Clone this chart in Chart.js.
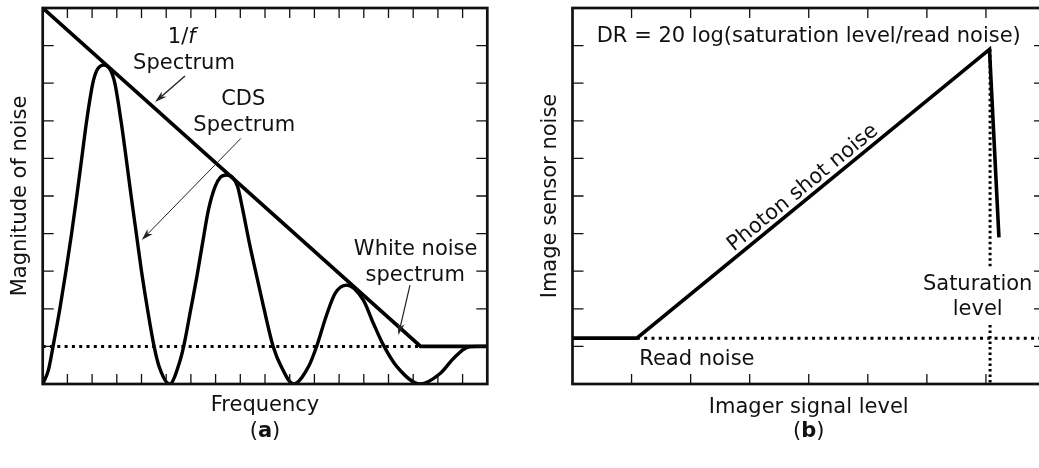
<!DOCTYPE html>
<html>
<head>
<meta charset="utf-8">
<script src="https://cdn.jsdelivr.net/npm/chart.js@4/dist/chart.umd.min.js"></script>
<style>
html, body { margin: 0; padding: 0; background: #fff; overflow: hidden; width: 1039px; height: 468px; }
#chartA { position: absolute; left: 0; top: 0; }
#chartB { position: absolute; left: 520px; top: 0; }
</style>
</head>
<body>
<canvas id="chartA" width="520" height="468"></canvas>
<canvas id="chartB" width="530" height="468"></canvas>
<script>
// ---- (a) noise spectra: frequency 0..18 divisions, magnitude 0..10 ----
const invFx = [0, 15.3, 18];
const invFy = [10, 1, 1];
const whiteX = [0, 15.3];
const whiteY = [1, 1];
const cdsX = [0, 0.23, 0.43, 0.7, 0.94, 1.17, 1.38, 1.58, 1.78, 2.03,
              2.2, 2.47, 2.74, 2.92, 3.17, 3.38, 3.58, 3.79, 4.0, 4.24,
              4.51, 4.72, 5.14, 5.55, 5.72, 5.99, 6.24, 6.47, 6.71, 6.98,
              7.2, 7.45, 7.68, 7.89, 8.1, 8.37, 8.67, 8.97, 9.33, 9.66,
              10.15, 10.79, 11.09, 11.47, 11.84, 12.31, 12.98, 13.39, 13.79, 14.34,
              15.28, 16.09, 16.63, 17.17, 17.6, 18];
const cdsY = [0, 0.37, 1.04, 2.02, 3, 4, 5, 6, 7, 8,
              8.35, 8.48, 8.35, 8, 7, 6, 5, 4, 3, 2,
              1, 0.45, 0, 0.6, 1.04, 1.97, 2.85, 3.74, 4.63, 5.25,
              5.5, 5.56, 5.5, 5.25, 4.63, 3.74, 2.85, 1.97, 1.0, 0.46,
              0, 0.5, 1.0, 1.79, 2.41, 2.63, 2.23, 1.61, 1.04, 0.46,
              0, 0.28, 0.68, 0.97, 1.0, 1.0];

// ---- (b) sensor noise vs signal: signal 0..8, noise 0..10 ----
const sensorX = [0, 1.09, 7.06, 7.22];
const sensorY = [1.22, 1.22, 8.9, 3.9];
const readX = [1.09, 8];
const readY = [1.22, 1.22];
const satX = [7.07, 7.07, 7.07, 7.07, 7.07];
const satY = [8.9, 3.09, null, 1.57, 0];

const FONT = "'DejaVu Sans', sans-serif";
Chart.defaults.font.family = FONT;
Chart.defaults.font.size = 21;
Chart.defaults.color = '#111';

let pts = (xs, ys) => xs.map((x, i) => ({ x: x, y: ys[i] }));

function arrow(ctx, x1, y1, x2, y2, lw) {
    let a = Math.atan2(y2 - y1, x2 - x1);
    let len = 12, half = 3.6;
    let c = Math.cos(a), s = Math.sin(a);
    ctx.save();
    ctx.lineWidth = lw;
    ctx.strokeStyle = '#222';
    ctx.fillStyle = '#222';
    ctx.beginPath();
    ctx.moveTo(x1, y1);
    ctx.lineTo(x2 - len * 0.7 * c, y2 - len * 0.7 * s);
    ctx.stroke();
    ctx.beginPath();
    ctx.moveTo(x2, y2);
    ctx.lineTo(x2 - len * c + half * s, y2 - len * s - half * c);
    ctx.lineTo(x2 - len * 0.7 * c, y2 - len * 0.7 * s);
    ctx.lineTo(x2 - len * c - half * s, y2 - len * s + half * c);
    ctx.closePath();
    ctx.fill();
    ctx.restore();
}

// draws pieces of text side by side, centred on x
function mixed(ctx, parts, x, y) {
    let w = 0;
    parts.forEach(p => { ctx.font = p[1] + ' 21px ' + FONT; w += ctx.measureText(p[0]).width; });
    let cx = x - w / 2;
    ctx.textAlign = 'left';
    parts.forEach(p => {
        ctx.font = p[1] + ' 21px ' + FONT;
        ctx.fillText(p[0], cx, y);
        cx += ctx.measureText(p[0]).width;
    });
}

// box round the plot and ticks pointing inwards on every side
const framePlugin = {
    id: 'frame',
    afterDraw(chart) {
        let ctx = chart.ctx;
        let { left, right, top, bottom } = chart.chartArea;
        let xs = chart.scales.x, ys = chart.scales.y;
        ctx.save();
        ctx.strokeStyle = '#111';
        ctx.lineWidth = 1.3;
        ctx.beginPath();
        xs.ticks.forEach(t => {
            let p = xs.getPixelForValue(t.value);
            if (p <= left + 1 || p >= right - 1) return;
            ctx.moveTo(p, bottom); ctx.lineTo(p, bottom - 10);
            ctx.moveTo(p, top); ctx.lineTo(p, top + 10);
        });
        ys.ticks.forEach(t => {
            let p = ys.getPixelForValue(t.value);
            if (p <= top + 1 || p >= bottom - 1) return;
            ctx.moveTo(left, p); ctx.lineTo(left + 11, p);
            ctx.moveTo(right, p); ctx.lineTo(right - 11, p);
        });
        ctx.stroke();
        ctx.lineWidth = 2.7;
        ctx.strokeRect(left, top, right - left, bottom - top);
        ctx.restore();
    }
};

const notesA = {
    id: 'notesA',
    afterDraw(chart) {
        let ctx = chart.ctx;
        let X = v => chart.scales.x.getPixelForValue(v);
        let Y = v => chart.scales.y.getPixelForValue(v);
        ctx.save();
        ctx.fillStyle = '#111';
        ctx.textBaseline = 'alphabetic';
        mixed(ctx, [['1/', 'normal'], ['f', 'italic']], X(5.63), Y(9.08));
        ctx.font = '21px ' + FONT;
        ctx.textAlign = 'center';
        ctx.fillText('Spectrum', X(5.72), Y(8.39));
        ctx.fillText('CDS', X(8.12), Y(7.42));
        ctx.fillText('Spectrum', X(8.16), Y(6.73));
        ctx.fillText('White noise', X(15.1), Y(3.43));
        ctx.fillText('spectrum', X(15.08), Y(2.74));
        mixed(ctx, [['(', 'normal'], ['a', 'bold'], [')', 'normal']], X(9.0), Y(-1.41));
        arrow(ctx, X(5.76), Y(8.19), X(4.55), Y(7.5), 1.4);
        arrow(ctx, X(8.02), Y(6.53), X(4.01), Y(3.83), 1.0);
        arrow(ctx, X(14.87), Y(2.63), X(14.4), Y(1.3), 1.2);
        ctx.restore();
    }
};

const notesB = {
    id: 'notesB',
    afterDraw(chart) {
        let ctx = chart.ctx;
        let X = v => chart.scales.x.getPixelForValue(v);
        let Y = v => chart.scales.y.getPixelForValue(v);
        ctx.save();
        ctx.fillStyle = '#111';
        ctx.textBaseline = 'alphabetic';
        ctx.font = '21px ' + FONT;
        ctx.textAlign = 'center';
        ctx.fillText('DR = 20 log(saturation level/read noise)', X(4.0), Y(9.1));
        ctx.fillText('Saturation', X(6.86), Y(2.5));
        ctx.fillText('level', X(6.86), Y(1.84));
        ctx.textAlign = 'left';
        ctx.fillText('Read noise', X(1.13), Y(0.5));
        // label laid along the shot-noise slope
        let x1 = X(sensorX[1]), y1 = Y(sensorY[1]);
        let x2 = X(sensorX[2]), y2 = Y(sensorY[2]);
        let t = (4.02 - sensorX[1]) / (sensorX[2] - sensorX[1]);
        ctx.translate(x1 + (x2 - x1) * t, y1 + (y2 - y1) * t);
        ctx.rotate(Math.atan2(y2 - y1, x2 - x1));
        ctx.textAlign = 'center';
        ctx.fillText('Photon shot noise', 0, -5.5);
        ctx.restore();
        ctx.save();
        ctx.fillStyle = '#111';
        mixed(ctx, [['(', 'normal'], ['b', 'bold'], [')', 'normal']], X(4.0), Y(-1.41));
        ctx.restore();
    }
};

function axes(xmax, xTitle, yTitle, yWidth, yPad, xPad) {
    return {
        x: {
            type: 'linear', min: 0, max: xmax,
            grid: { display: false }, border: { display: false },
            ticks: { display: false, stepSize: 1 },
            title: { display: true, text: xTitle, padding: { top: 0, bottom: xPad } },
            afterFit(s) { s.height = 84; }
        },
        y: {
            min: 0, max: 10,
            grid: { display: false }, border: { display: false },
            ticks: { display: false, stepSize: 1 },
            title: { display: true, text: yTitle, padding: { top: yPad, bottom: 0 } },
            afterFit(s) { s.width = yWidth; }
        }
    };
}

let solid = (data, w, extra) => Object.assign({
    data: data, borderColor: '#000', borderWidth: w, pointRadius: 0,
    fill: false, tension: 0, borderCapStyle: 'butt', borderJoinStyle: 'miter'
}, extra || {});

new Chart(document.getElementById('chartA'), {
    type: 'line',
    data: {
        datasets: [
            solid(pts(whiteX, whiteY), 3, { borderDash: [3, 4.3] }),
            solid(pts(invFx, invFy), 3.7),
            solid(pts(cdsX, cdsY), 3.4, { cubicInterpolationMode: 'monotone', borderJoinStyle: 'round' })
        ]
    },
    options: {
        responsive: false,
        animation: false,
        layout: { padding: { left: 0, right: 32.7, top: 8, bottom: 0 } },
        plugins: { legend: { display: false }, tooltip: { enabled: false } },
        scales: axes(18, 'Frequency', 'Magnitude of noise', 42.7, 8.4, 50)
    },
    plugins: [framePlugin, notesA]
});

new Chart(document.getElementById('chartB'), {
    type: 'line',
    data: {
        datasets: [
            solid(pts(readX, readY), 3, { borderDash: [3, 4.3] }),
            solid(pts(satX, satY), 3, { borderDash: [2.5, 3], spanGaps: false }),
            solid(pts(sensorX, sensorY), 3.6)
        ]
    },
    options: {
        responsive: false,
        animation: false,
        layout: { padding: { left: 0, right: 5, top: 8, bottom: 0 } },
        plugins: { legend: { display: false }, tooltip: { enabled: false } },
        scales: axes(8, 'Imager signal level', 'Image sensor noise', 52.5, 17.7, 47.8)
    },
    plugins: [framePlugin, notesB]
});
</script>
</body>
</html>
